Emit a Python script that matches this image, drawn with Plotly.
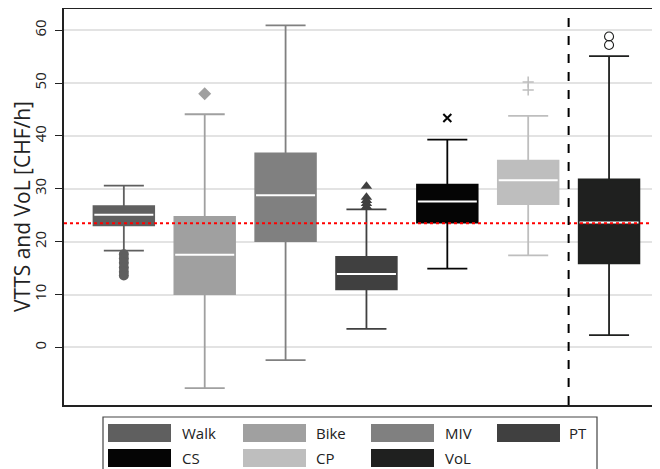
import plotly.graph_objects as go

# ---------------- data ----------------
categories = ["Walk", "Bike", "MIV", "PT", "CS", "CP", "VoL"]
colors = ["#5f5f5f", "#a0a0a0", "#808080", "#404040", "#050505", "#bebebe", "#1f201f"]
q1 = [23.1, 10.1, 20.1, 11.0, 23.6, 27.1, 15.9]
median = [25.1, 17.5, 28.8, 13.9, 27.6, 31.6, 23.6]
q3 = [26.7, 24.7, 36.7, 17.1, 30.8, 35.3, 31.8]
lower_whisker = [18.3, -7.7, -2.4, 3.5, 14.9, 17.4, 2.3]
upper_whisker = [30.6, 44.1, 60.9, 26.1, 39.3, 43.8, 55.1]
outliers = [
    [17.6, 16.8, 16.0, 15.1, 14.3, 13.6],
    [48.0],
    [],
    [26.6, 27.2, 27.8, 28.4, 30.5],
    [43.4],
    [48.7, 50.2],
    [57.2, 58.8],
]
outlier_symbols = ["circle", "diamond", "circle", "triangle-up", "x-thin", "cross-thin", "circle-open"]
reference_value = 23.5
tick_values = [0, 10, 20, 30, 40, 50, 60]

# ---------------- figure ----------------
OFF = 8  # page body margin
W, H = 652, 461
ML, MR, MT, MB = 56, 0, 0, 64
PW, PH = W - ML - MR, H - MT - MB

fig = go.Figure()
box_w = 0.75
for i, cat in enumerate(categories):
    fig.add_trace(go.Box(
        x=[i], q1=[q1[i]], median=[median[i]], q3=[q3[i]],
        lowerfence=[lower_whisker[i]], upperfence=[upper_whisker[i]],
        fillcolor=colors[i], line=dict(color=colors[i], width=1.8),
        width=box_w, whiskerwidth=0.66, boxpoints=False,
        name=cat, showlegend=False, hoverinfo="skip",
    ))
    # white median line
    fig.add_trace(go.Scatter(
        x=[i - box_w / 2 + 0.01, i + box_w / 2 - 0.01], y=[median[i], median[i]],
        mode="lines", line=dict(color="white", width=2),
        showlegend=False, hoverinfo="skip",
    ))
    if outliers[i]:
        sym = outlier_symbols[i]
        size = 10
        mline = dict(width=0)
        if sym in ("x-thin", "cross-thin"):
            size = 8
            mline = dict(width=2 if sym == "x-thin" else 1.5, color=colors[i])
        if sym == "circle-open":
            size = 9
            mline = dict(width=1.1, color=colors[i])
        fig.add_trace(go.Scatter(
            x=[i] * len(outliers[i]), y=outliers[i], mode="markers",
            marker=dict(symbol=sym, size=size, color=colors[i], line=mline),
            showlegend=False, hoverinfo="skip",
        ))

shapes = [
    dict(type="line", xref="paper", yref="y", x0=0, x1=1,
         y0=reference_value, y1=reference_value,
         line=dict(color="#ff0000", width=2, dash="dot"), layer="above"),
    dict(type="line", xref="x", yref="paper", x0=len(categories) - 1.5, x1=len(categories) - 1.5,
         y0=0, y1=1, line=dict(color="black", width=2, dash="dash")),
    dict(type="line", xref="paper", yref="paper", x0=0, x1=1, y0=1, y1=1,
         line=dict(color="#222", width=2)),
]


def px_x(px):
    return (px - OFF - ML) / PW


def px_y(py):
    return (H - MB - (py - OFF)) / PH


shapes.append(dict(type="rect", xref="paper", yref="paper",
                   x0=px_x(103), x1=px_x(597), y0=px_y(474), y1=px_y(417),
                   line=dict(color="#444", width=1.2), fillcolor="white"))
col_swatch_x = [108, 243, 371, 497]
col_text_x = [180, 314, 443, 567]
row_y = [424, 449]
sw_w, sw_h = 63, 18
annotations = []
for k, cat in enumerate(categories):
    r, c = divmod(k, 4)
    x0 = col_swatch_x[c]
    y0 = row_y[r]
    shapes.append(dict(type="rect", xref="paper", yref="paper",
                       x0=px_x(x0), x1=px_x(x0 + sw_w), y0=px_y(y0 + sw_h), y1=px_y(y0),
                       line=dict(width=0), fillcolor=colors[k]))
    annotations.append(dict(xref="paper", yref="paper", x=px_x(col_text_x[c]),
                            y=px_y(y0 + sw_h / 2), text=cat, showarrow=False,
                            xanchor="left", yanchor="middle",
                            font=dict(size=15, color="#222")))

fig.update_layout(
    width=W, height=H,
    margin=dict(l=ML, r=MR, t=MT, b=MB),
    paper_bgcolor="white", plot_bgcolor="white",
    font=dict(family="Open Sans", color="#222"),
    shapes=shapes, annotations=annotations,
    showlegend=False,
    xaxis=dict(range=[-0.74, 6.63], showticklabels=False, ticks="", showgrid=False,
               zeroline=False, showline=True, linecolor="#222", linewidth=1.5),
    yaxis=dict(range=[-10.9, 64.2], tickvals=tick_values, tickangle=-90,
               ticks="outside", ticklen=7, tickcolor="#222", tickfont=dict(size=15),
               ticklabelstandoff=3,
               showgrid=True, gridcolor="#e3e3e3", gridwidth=1.5, zeroline=False,
               showline=True, linecolor="#222", linewidth=1.5,
               title=dict(text="VTTS and VoL [CHF/h]", font=dict(size=21), standoff=4)),
)

fig.write_html("out.html")
